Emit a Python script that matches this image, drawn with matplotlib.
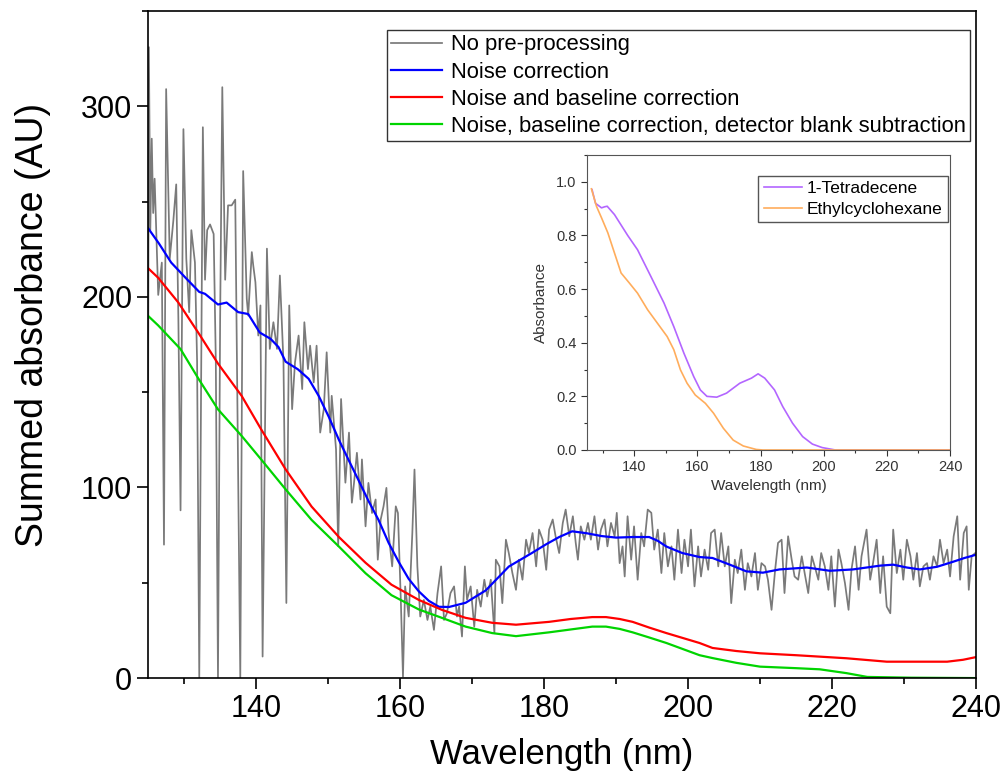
import numpy as np
import matplotlib
matplotlib.use("Agg")
import matplotlib.pyplot as plt
from matplotlib.ticker import MultipleLocator

plt.rcParams['font.family'] = ['Liberation Sans', 'DejaVu Sans']

# raw summed spectrum (no pre-processing)
raw_wl = [125.0, 125.1, 125.3, 125.5, 125.7, 125.9, 126.4, 126.9, 127.2, 127.5,
          128.0, 128.5, 128.9, 129.2, 129.5, 129.9, 130.3, 130.7, 131.0, 131.5,
          131.8, 132.1, 132.3, 132.6, 132.9, 133.2, 133.6, 134.1, 134.4, 134.7,
          135.0, 135.3, 135.7, 136.1, 136.6, 137.1, 137.4, 137.8, 138.2, 138.7,
          138.9, 139.4, 139.6, 139.9, 140.3, 140.6, 140.9, 141.5, 141.9, 142.4,
          142.9, 143.3, 143.8, 144.2, 144.6, 145.0, 145.4, 145.9, 146.4, 146.7,
          147.2, 147.5, 148.0, 148.4, 148.9, 149.4, 149.8, 150.3, 150.5, 151.1,
          151.4, 151.8, 152.4, 152.9, 153.3,
          153.6, 154.0, 154.5, 154.7, 155.2, 155.6, 156.1, 156.6, 156.9, 157.3,
          157.7, 158.1, 158.4, 158.9, 159.4, 159.7, 160.1, 160.4, 160.7, 161.2,
          161.7, 162.0, 162.4, 162.8, 163.3, 163.8, 164.2, 164.7, 165.2, 165.7,
          166.1, 166.5, 167.0, 167.5, 167.9,
          168.2, 168.6, 169.0, 169.3, 169.8, 170.3, 170.7, 171.2, 171.7, 172.1,
          172.6, 173.1, 173.3, 173.8, 174.2, 174.7, 175.1, 175.6, 176.1, 176.5,
          177.0, 177.5, 177.9, 178.4, 178.9, 179.3, 179.8, 180.3, 180.7, 181.2,
          181.6, 182.1, 182.6, 183.0, 183.5, 184.0, 184.4, 184.7, 185.1, 185.6,
          186.1, 186.5, 187.0, 187.5, 187.9, 188.4, 188.8, 189.3, 189.8, 190.1,
          190.5, 190.9, 191.2,
          191.6, 192.1, 192.5, 193.0, 193.5, 193.9, 194.4, 194.9, 195.3, 195.8,
          196.3, 196.7, 197.2, 197.7, 198.1, 198.6, 199.1, 199.5, 200.0, 200.4,
          200.9, 201.4, 201.8, 202.3, 202.8, 203.2, 203.7, 204.2, 204.6, 205.1,
          205.6, 206.0, 206.5, 206.9, 207.4, 207.9, 208.3, 208.8, 209.3, 209.7,
          210.2, 210.7, 211.1, 211.6, 212.1, 212.5, 213.0, 213.4, 213.9, 214.4,
          214.8,
          215.3, 215.8, 216.2, 216.7, 217.2, 217.6, 218.1, 218.5, 219.0, 219.5,
          219.9, 220.4, 220.9, 221.3, 221.8, 222.3, 222.7, 223.2, 223.7, 224.1,
          224.8, 225.3, 225.7, 226.2, 226.7, 227.1, 227.6, 228.1, 228.5, 229.0,
          229.5, 229.9, 230.4, 230.9, 231.3, 231.8, 232.2, 232.7, 233.2, 233.6,
          234.1, 234.6, 235.0, 235.5, 236.0, 236.4, 236.9, 237.4, 237.8, 238.3,
          238.7, 239.0, 239.4, 239.9]
raw_abs = [150, 331, 235, 283, 244, 262, 201, 218, 70, 309,
           220, 240, 259, 188, 88, 288, 220, 192, 235, 218,
           166, 0, 122, 289, 209, 235, 238, 233, 166, 0,
           188, 310, 209, 248, 248, 251, 144, 0, 266, 199,
           190.2, 223.5, 216.5, 207.7, 179.7, 195.5, 11.3, 225.3, 172.7, 186.7,
           172.7, 211.2, 165.6, 39.4, 195.5, 141.1, 165.6, 179.7, 151.6, 186.7,
           162.1, 174.4, 155.1, 174.4, 128.8, 141.1, 170.9, 128.8, 148.1, 120.0,
           69.2, 146.4, 102.5, 128.8, 92.0,
           102.4, 118.2, 93.7, 114.7, 79.6, 102.4, 86.6, 93.7, 62.1, 83.1,
           90.1, 99.8, 76.1, 58.6, 90.1, 86.6, 41.0, 0.7, 48.1, 32.3,
           76.1, 109.4, 58.6, 32.3, 41.0, 30.5, 37.5, 25.3, 44.6, 58.6,
           30.5, 34.0, 44.6, 48.1, 32.3,
           37.5, 21.8, 58.6, 41.1, 48.1, 27.0, 46.3, 37.5, 51.6, 42.8,
           51.6, 23.5, 62.1, 58.6, 39.3, 72.6, 65.6, 55.1, 46.3, 62.1,
           51.6, 72.6, 65.6, 76.1, 58.6, 77.9, 72.6, 56.8, 77.9, 83.2,
           74.4, 65.6, 81.4, 88.4, 74.4, 84.9, 70.9, 62.1, 79.6, 72.6,
           81.4, 72.6, 84.9, 67.4, 77.9, 83.2, 69.1, 81.4, 74.4, 86.7,
           60.3, 69.1, 53.3,
           84.9, 62.1, 79.6, 51.6, 76.1, 69.1, 88.4, 86.7, 67.4, 77.9,
           55.1, 76.1, 58.6, 69.1, 51.6, 77.9, 55.1, 72.6, 58.6, 77.9,
           48.1, 69.1, 53.3, 67.4, 56.8, 76.1, 77.9, 58.6, 76.1, 58.6,
           69.1, 39.3, 62.1, 55.1, 67.4, 46.3, 60.3, 53.3, 65.6, 46.3,
           60.3, 58.6, 51.6, 35.8, 56.8, 70.9, 72.6, 44.6, 74.4, 62.1,
           53.3,
           51.6, 63.9, 55.1, 44.6, 63.9, 58.6, 51.6, 65.6, 58.6, 46.3,
           63.9, 37.5, 67.4, 60.3, 49.8, 35.8, 56.8, 69.1, 46.3, 63.9,
           77.9, 51.6, 60.3, 72.6, 44.6, 63.9, 37.5, 34.0, 77.9, 55.1,
           67.4, 51.6, 72.6, 63.9, 51.6, 65.6, 48.1, 58.6, 60.3, 51.6,
           63.9, 58.6, 72.6, 60.3, 67.4, 53.3, 74.4, 84.9, 51.6, 76.1,
           79.6, 46.3, 63.9, 65.6]

# noise correction
noise_wl = [125, 126.5, 128.2, 130.2, 132.1, 132.9, 134.7, 135.9, 137.5, 138.9,
            140.5, 142.0, 143.1, 144.1, 145.8, 147.3, 148.7, 150.1, 151.5, 152.9,
            154.2, 155.6, 157.0, 158.4, 159.8, 161.2, 162.6, 164.0, 165.4, 166.8,
            169.1, 171.9, 175.1, 178.3, 180.2, 182.1, 183.9, 185.9, 188.0, 190.0,
            192.3, 194.6, 195.8, 197.0, 199.2, 201.6, 203.4, 205.8, 208.1, 210.4,
            212.7, 216.5, 219.7, 222.9, 226.7, 228.5, 230.4, 232.2, 234.6, 236.8,
            238.4, 240]
noise_abs = [236, 228, 218, 210, 202.6, 201.6, 196, 197, 192, 191,
             181.3, 178, 173.7, 166, 162, 157, 148, 137, 125, 114,
             104, 93, 83, 71, 61, 52, 45.5, 40.5, 37.4, 37.3,
             39.5, 46, 58.5, 65.6, 70, 74, 77, 76, 74.5, 73.7,
             74, 74, 72, 69, 65.6, 63.5, 63, 59.5, 56, 55.3,
             57, 58, 56.3, 57, 59, 59.5, 58, 57, 58.4, 61,
             63, 64.7]

# noise and baseline correction
base_wl = [125, 126.4, 129.2, 132.0, 134.7, 138.0, 140.7, 144.1, 147.7, 151.5,
           155.2, 158.8, 162.6, 165.8, 169.1, 172.8, 176.1, 180.7, 183.7, 186.7,
           188.6, 190.5, 192.3, 194.6, 197.0, 199.3, 201.6, 203.4, 206.7, 210.0,
           215.0, 222.0, 227.6, 236.0, 238.2, 240]
base_abs = [215, 210, 197, 181, 165, 148, 130.5, 109.5, 90, 74,
            60.5, 49, 41, 35.8, 31.6, 29, 28, 29.5, 31, 32,
            32, 31, 29.5, 26.5, 23.6, 21, 18.4, 15.8, 14.2, 13,
            12, 10.4, 8.6, 8.6, 9.6, 11]

# noise, baseline correction and detector blank subtraction
blank_wl = [125, 126.4, 129.5, 132.0, 134.7, 138.0, 140.7, 144.1, 147.7, 151.5,
            155.2, 158.8, 162.6, 165.8, 169.1, 172.8, 176.1, 180.7, 183.7, 186.7,
            188.6, 190.5, 192.3, 194.6, 197.0, 199.3, 201.6, 203.4, 206.7, 210.0,
            215.0, 218.3, 222.0, 224.9, 231.0, 240]
blank_abs = [190, 185, 172.6, 157, 141, 127, 114.7, 99, 83, 69,
             55, 43.5, 36, 31.6, 27, 23.6, 22, 24, 25.5, 27,
             27, 25.8, 24, 21.3, 18.4, 15.2, 12, 10.5, 8, 6,
             5.2, 4.6, 2.6, 0.6, 0.2, 0]

# inset reference spectra
tetra_wl = [126.6, 127.7, 129.6, 130.6, 131.4, 133.7, 137.9, 141.0, 145.2, 149.4,
            152.5, 155.7, 158.8, 160.9, 163.0, 166.1, 169.2, 173.4, 177.1, 179.2,
            181.3, 184.4, 187.0, 190.1, 193.3, 196.4, 199.5, 203.7, 240]
tetra_abs = [0.971, 0.92, 0.903, 0.907, 0.909, 0.878, 0.80, 0.747, 0.648, 0.548,
             0.46, 0.361, 0.274, 0.224, 0.2, 0.197, 0.212, 0.249, 0.268, 0.284,
             0.268, 0.224, 0.162, 0.1, 0.05, 0.022, 0.009, 0.0, 0.0]
ethyl_wl = [126.4, 128.0, 129.6, 131.6, 133.7, 135.8, 138.4, 141.0, 144.2, 147.3,
            150.4, 152.5, 154.6, 156.7, 159.3, 162.5, 165.1, 168.2, 171.3, 174.5,
            178.6, 180.7, 240]
ethyl_abs = [0.974, 0.909, 0.866, 0.81, 0.735, 0.66, 0.623, 0.585, 0.523, 0.473,
             0.423, 0.374, 0.299, 0.249, 0.205, 0.174, 0.137, 0.081, 0.037, 0.015,
             0.002, 0.0, 0.0]

fig = plt.figure(figsize=(10.01, 7.83), dpi=100)
ax = fig.add_axes([0.148, 0.134, 0.827, 0.852])

ax.plot(raw_wl, raw_abs, color='#7a7a7a', lw=1.25, label='No pre-processing')
ax.plot(noise_wl, noise_abs, color='#0000ff', lw=1.6, label='Noise correction')
ax.plot(base_wl, base_abs, color='#ff0000', lw=1.6, label='Noise and baseline correction')
ax.plot(blank_wl, blank_abs, color='#00d400', lw=1.6,
        label='Noise, baseline correction, detector blank subtraction')

ax.set_xlim(125, 240)
ax.set_ylim(0, 350)
ax.set_xticks(np.arange(140, 241, 20))
ax.set_xticks(np.arange(130, 240, 20), minor=True)
ax.set_yticks([0, 100, 200, 300])
ax.yaxis.set_minor_locator(MultipleLocator(50))
ax.tick_params(which='major', direction='out', length=8, width=1.2, labelsize=22)
ax.tick_params(which='minor', direction='out', length=4.5, width=1.2)
for s in ax.spines.values():
    s.set_linewidth(1.2)
ax.set_xlabel('Wavelength (nm)', fontsize=25, labelpad=10)
ax.set_ylabel('Summed absorbance (AU)', fontsize=27)
ax.yaxis.set_label_coords(-0.117, 0.53)

ax.legend(loc='upper right', bbox_to_anchor=(970 / 1001, 1 - 30 / 783),
          bbox_transform=fig.transFigure, borderaxespad=0, fontsize=15.8,
          fancybox=False, edgecolor='#333333', framealpha=1,
          handlelength=2.3, handletextpad=0.4, labelspacing=0.28,
          borderpad=0.2)

# inset
ins = fig.add_axes([0.5864, 0.4253, 0.3627, 0.3767])
ins.plot(tetra_wl, tetra_abs, color='#b366ff', lw=1.2, label='1-Tetradecene', clip_on=False)
ins.plot(ethyl_wl, ethyl_abs, color='#ffad5c', lw=1.2, label='Ethylcyclohexane', clip_on=False)
ins.set_xlim(125, 240)
ins.set_ylim(0, 1.1)
ins.set_xticks(np.arange(140, 241, 20))
ins.set_xticks(np.arange(130, 240, 20), minor=True)
ins.set_yticks(np.arange(0, 1.01, 0.2))
ins.yaxis.set_minor_locator(MultipleLocator(0.1))
ins.yaxis.set_major_formatter(plt.FormatStrFormatter('%.1f'))
ins.tick_params(which='major', direction='out', length=4, width=0.8, labelsize=10.5,
                colors='#333333')
ins.tick_params(which='minor', direction='out', length=2.5, width=0.8, colors='#333333')
for s in ins.spines.values():
    s.set_linewidth(0.8)
    s.set_color('#555555')
ins.set_xlabel('Wavelength (nm)', fontsize=11, color='#333333', labelpad=3)
ins.set_ylabel('Absorbance', fontsize=11, color='#333333', labelpad=6)
ins.legend(loc='upper right', bbox_to_anchor=(948 / 1001, 1 - 176 / 783),
           bbox_transform=fig.transFigure, borderaxespad=0,
           fontsize=12.5, fancybox=False, edgecolor='#555555',
           framealpha=1, handlelength=2.2, handletextpad=0.3, labelspacing=0.3,
           borderpad=0.3)

fig.savefig('out.png', dpi=100)
